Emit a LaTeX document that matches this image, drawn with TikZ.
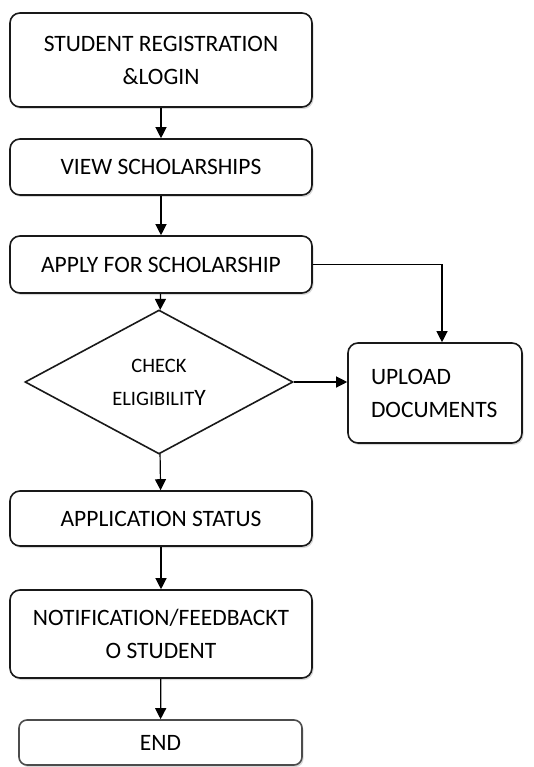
\documentclass[tikz,border=0pt]{standalone}
\usepackage{fontspec}
\setmainfont{Carlito}
\usetikzlibrary{shapes.geometric,arrows.meta,shadows}

\begin{document}
\begin{tikzpicture}
    [x=1pt,y=-1pt,
    stepbox/.style={draw=black!90,line width=1.6pt,rounded corners=10pt,fill=white,
        align=center,inner sep=0pt,font=\fontsize{23.5}{33}\selectfont,
        drop shadow={shadow xshift=1.5pt,shadow yshift=-2pt,opacity=0.3}},
    decision/.style={draw=black!90,line width=1.6pt,diamond,inner sep=0pt,
        align=center,font=\fontsize{20.5}{33}\selectfont},
    flow/.style={line width=1.2pt,-{Triangle[length=11pt,width=11pt]}}]
    \useasboundingbox (0,0) rectangle (534,767);
    %boxes
    \node[stepbox,minimum width=302pt,minimum height=94pt] (login) at (161,60)
        {STUDENT REGISTRATION\\\&LOGIN};
    \node[stepbox,minimum width=302pt,minimum height=56pt] (view) at (161,167)
        {VIEW SCHOLARSHIPS};
    \node[stepbox,minimum width=302pt,minimum height=57pt] (apply) at (161,264.5)
        {APPLY FOR SCHOLARSHIP};
    \node[decision,minimum width=268pt,minimum height=144pt] (check) at (159,382)
        {CHECK\\ELIGIBILIT{\fontsize{23.5}{33}\selectfont Y}};
    \node[stepbox,minimum width=174pt,minimum height=100pt,text width=128pt,align=left]
        (upload) at (435,393) {UPLOAD\\DOCUMENTS};
    \node[stepbox,minimum width=302pt,minimum height=55pt] (status) at (161,518.5)
        {APPLICATION STATUS};
    \node[stepbox,minimum width=302pt,minimum height=88pt] (notify) at (161,634)
        {NOTIFICATION/FEEDBACKT\\O STUDENT};
    \node[stepbox,draw=black!70,rounded corners=8pt,minimum width=283pt,minimum height=45pt]
        (end) at (160.5,742.5) {END};
    %arrows
    \draw[flow] (login) -- (view);
    \draw[flow] (view) -- (apply);
    \draw[flow] (apply) -- (check);
    \draw[flow] (apply.east) -| ([xshift=7pt]upload.north);
    \draw[flow] (check.east) -- (check.east -| upload.west);
    \draw[flow] (check) -- (status);
    \draw[flow] (status) -- (notify);
    \draw[flow] (notify) -- (end);
\end{tikzpicture}
\end{document}
